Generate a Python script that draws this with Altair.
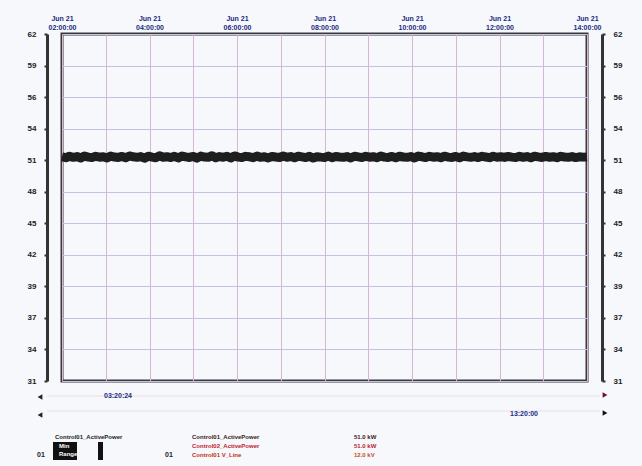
import altair as alt
import pandas as pd

# ---- data ----
start_time = "2021-06-21T02:00:00"
end_time = "2021-06-21T14:00:00"
y_min, y_max = 31.0, 62.0
n_y_ticks = 12
power_values = [
    51.02, 50.95, 51.08, 50.98, 51.05, 50.92, 51.10, 51.00, 50.96, 51.07, 50.99, 51.04, 50.93, 51.09, 51.01, 50.97, 51.06, 50.94, 51.11, 51.03,
    50.98, 51.05, 50.90, 51.08, 51.00, 50.95, 51.12, 50.99, 51.04, 50.96, 51.07, 50.93, 51.10, 51.02, 50.97, 51.06, 50.91, 51.09, 51.01, 50.98,
    51.13, 50.94, 51.05, 50.99, 51.08, 50.92, 51.11, 51.00, 50.96, 51.07, 51.03, 50.95, 51.09, 50.98, 51.04, 50.93, 51.06, 51.01, 50.97, 51.10,
    50.99, 51.05, 50.94, 51.08, 51.02, 50.96, 51.07, 50.92, 51.04, 51.00, 50.97, 51.09, 50.95, 51.06, 51.01, 50.98, 51.05, 50.93, 51.08, 51.02,
    50.96, 51.07, 50.99, 51.04, 50.94, 51.10, 51.00, 50.97, 51.06, 50.95, 51.08, 51.01, 50.98, 51.05, 50.93, 51.09, 51.03, 50.96, 51.07, 50.99,
    51.04, 50.95, 51.08, 51.00, 50.97, 51.06, 50.94, 51.09, 51.02, 50.98, 51.05, 50.96, 51.07, 51.01, 50.95, 51.08, 50.99, 51.04, 50.97, 51.06,
    51.00, 50.96, 51.07, 50.98, 51.05, 50.94, 51.08, 51.02, 50.97, 51.06, 50.99, 51.04, 50.95, 51.07, 51.01, 50.98, 51.05, 50.96, 51.03, 51.00, 51.02,
]
legend_names = ["Control01_ActivePower", "Control02_ActivePower", "Control01 V_Line"]
legend_values = ["51.0 kW", "51.0 kW", "12.0 kV"]
slider_times = ["03:20:24", "13:20:00"]

times = pd.date_range(start_time, end_time, periods=len(power_values))
df = pd.DataFrame({"t": times, "v": power_values})
hour_ticks = [pd.Timestamp(x).isoformat() for x in pd.date_range(start_time, end_time, freq="1h")]
y_ticks = [y_min + k * (y_max - y_min) / (n_y_ticks - 1) for k in range(n_y_ticks)]

W, H = 525, 347
xscale = alt.Scale(domain=[start_time, end_time], type="utc")
yscale = alt.Scale(domain=[y_min, y_max], nice=False, zero=False)

x_axis = alt.Axis(
    orient="top", values=hour_ticks, title=None, ticks=False, domain=False,
    labelExpr="utchours(datum.value) % 2 == 0 ? ['Jun 21', utcFormat(datum.value, '%H:%M:%S')] : ''",
    labelColor="#1c2a80", labelFontSize=7, labelFontWeight="bold", labelPadding=13,
    labelLineHeight=9, labelFlush=False,
    grid=True, gridColor="#d8b4d6", gridWidth=1,
)

def y_axis(orient):
    return alt.Axis(
        orient=orient, values=y_ticks, format=".0f", title=None, offset=15,
        domainColor="#333333", domainWidth=3, tickColor="#333333", tickSize=3, tickWidth=2,
        labelColor="#222222", labelFontSize=8, labelFontWeight="bold", labelPadding=8,
        grid=(orient == "left"), gridColor="#c8bfe2", gridWidth=1,
    )

line = alt.Chart(df).mark_line(color="#1e1e1e", strokeWidth=9, strokeJoin="round").encode(
    x=alt.X("t:T", scale=xscale, axis=x_axis),
    y=alt.Y("v:Q", scale=yscale, axis=y_axis("left")),
)
right = alt.Chart(df).mark_line(opacity=0).encode(
    x=alt.X("t:T", scale=xscale, axis=x_axis),
    y=alt.Y("v:Q", scale=yscale, axis=y_axis("right")),
)

one = pd.DataFrame({"a": [0]})
B = H  # offset below the plot area

def txt(x, y, s, color="#222222", size=7, weight="bold", align="left"):
    return alt.Chart(one).mark_text(
        text=s, color=color, fontSize=size, fontWeight=weight, align=align, baseline="middle"
    ).encode(x=alt.value(x), y=alt.value(B + y))

def tri(x, y, shape, color):
    return alt.Chart(one).mark_point(shape=shape, filled=True, color=color, size=30, opacity=1).encode(
        x=alt.value(x), y=alt.value(B + y))

def hline(x1, x2, y, color):
    return alt.Chart(one).mark_rule(color=color, strokeWidth=1).encode(
        x=alt.value(x1), x2=alt.value(x2), y=alt.value(B + y))

def block(x1, x2, y1, y2):
    return alt.Chart(one).mark_rect(color="#111111").encode(
        x=alt.value(x1), x2=alt.value(x2), y=alt.value(B + y1), y2=alt.value(B + y2))

deco = [
    hline(-15, 538, 15, "#e8dcec"),
    hline(-15, 538, 30, "#e8dcec"),
    tri(-22, 16, "triangle-left", "#222222"),
    tri(-22, 34, "triangle-left", "#222222"),
    tri(543, 14, "triangle-right", "#6a1030"),
    tri(543, 32, "triangle-right", "#111111"),
    txt(56, 15, slider_times[0], color="#1c2a80", align="center"),
    txt(462, 33, slider_times[1], color="#1c2a80", align="center"),
    txt(-7, 56, legend_names[0], color="#222222", size=6),
    txt(-25, 74, "01", size=7),
    txt(103, 74, "01", size=7),
    block(-9, 15, 61, 79),
    txt(-3, 65, "Min", color="#ffffff", size=6),
    txt(-3, 73, "Range", color="#ffffff", size=6),
    block(36, 41, 61, 79),
    txt(130, 56, legend_names[0], color="#3a1a20", size=6),
    txt(130, 65, legend_names[1], color="#c02030", size=6),
    txt(130, 74, legend_names[2], color="#c03020", size=6),
    txt(292, 56, legend_values[0], color="#3a1a20", size=6),
    txt(292, 65, legend_values[1], color="#c02030", size=6),
    txt(292, 74, legend_values[2], color="#c05020", size=6),
]
deco_layer = alt.layer(*deco)

main = alt.layer(line, right).resolve_scale(y="independent")

chart = alt.layer(main, deco_layer).properties(
    width=W, height=H,
    autosize=alt.AutoSizeParams(type="none"),
    padding={"left": 62, "top": 34, "right": 55, "bottom": 85},
    background="#f6f8fc",
).configure_view(stroke="#3a3a3a", strokeWidth=3)

chart.save("out.html", embed_options={"renderer": "svg", "actions": False})
